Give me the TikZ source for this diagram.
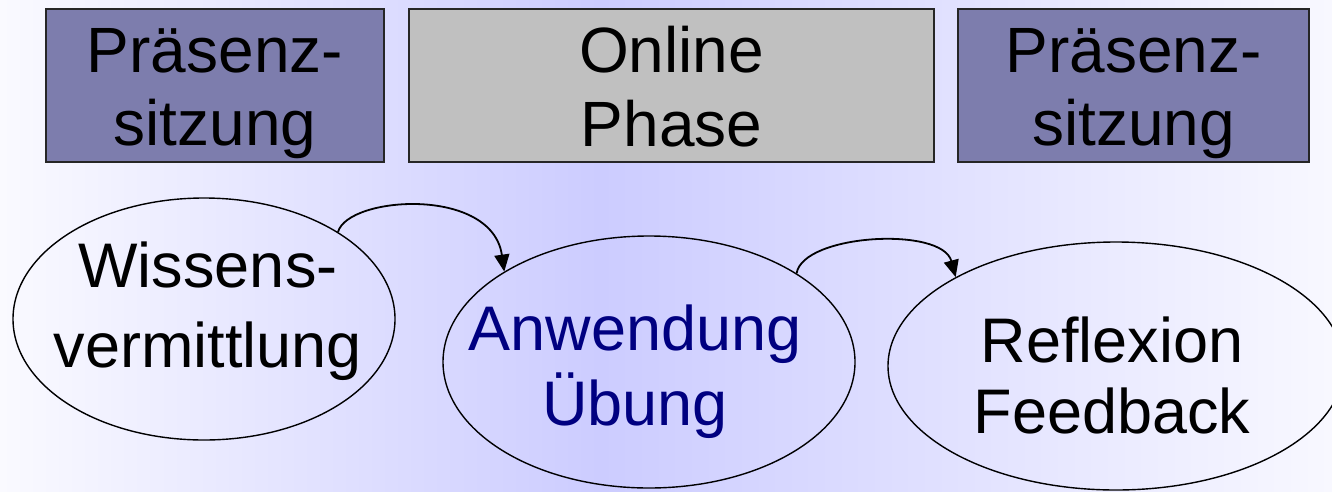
\documentclass[tikz,border=0pt]{standalone}
\usepackage{fontspec}
\setmainfont{Liberation Sans}
\usetikzlibrary{shapes.geometric,arrows.meta}
\definecolor{lav}{RGB}{204,204,255}
\definecolor{bgl}{RGB}{250,250,255}
\definecolor{bgr}{RGB}{248,248,255}
\definecolor{boxpurple}{RGB}{125,125,173}
\definecolor{boxgrey}{RGB}{192,192,192}
\definecolor{navytext}{RGB}{0,0,128}
\begin{document}
\begin{tikzpicture}[x=1pt,y=-1pt,
  phasebox/.style={draw=black!85, line width=1.5pt, inner sep=0pt,
    minimum height=153pt},
  oval/.style={ellipse, draw=black, line width=1.4pt, inner sep=0pt},
  bigtext/.style={align=center, inner sep=0pt, anchor=base},
  conn/.style={line width=1.8pt, -{Triangle[length=17pt,width=15pt]}}]
\useasboundingbox (0,0) rectangle (1332,491);
\shade[left color=bgl, right color=lav] (0,0) rectangle (600,491);
\shade[left color=lav, right color=bgr] (600,0) rectangle (1332,491);

% top boxes
\node[phasebox, fill=boxpurple, minimum width=338pt] (b1) at (215,85.5) {};
\node[phasebox, fill=boxgrey, minimum width=525pt] (b2) at (671.5,85.5) {};
\node[phasebox, fill=boxpurple, minimum width=351pt] (b3) at (1133.5,85.5) {};
\node[bigtext, font=\fontsize{64}{73}\selectfont] (b1t) at (215,145) {Präsenz-\\sitzung};
\node[bigtext, font=\fontsize{64}{74}\selectfont] (b2t) at (671.5,146) {Online\\Phase};
\node[bigtext, font=\fontsize{64}{73}\selectfont] (b3t) at (1133.5,145) {Präsenz-\\sitzung};

% ellipses
\node[oval, minimum width=382pt, minimum height=242pt] (e1) at (204,319) {};
\node[oval, minimum width=412pt, minimum height=252pt] (e2) at (649,362) {};
\node[oval, minimum width=456pt, minimum height=248pt] (e3) at (1116,366) {};
\node[bigtext, font=\fontsize{63}{80}\selectfont] (e1t) at (208,367) {Wissens-\\vermittlung};
\node[bigtext, text=navytext, font=\fontsize{63}{75}\selectfont] (e2t) at (635,425) {Anwendung\\Übung};
\node[bigtext, font=\fontsize{63}{71}\selectfont] (e3t) at (1112,433) {Reflexion\\Feedback};

% connectors
\draw[conn] (e1.33) .. controls (348,196) and (492,186) .. (e2.148);
\draw[conn] (e2.31) .. controls (803,234) and (942,226) .. (e3.151);
\end{tikzpicture}
\end{document}
